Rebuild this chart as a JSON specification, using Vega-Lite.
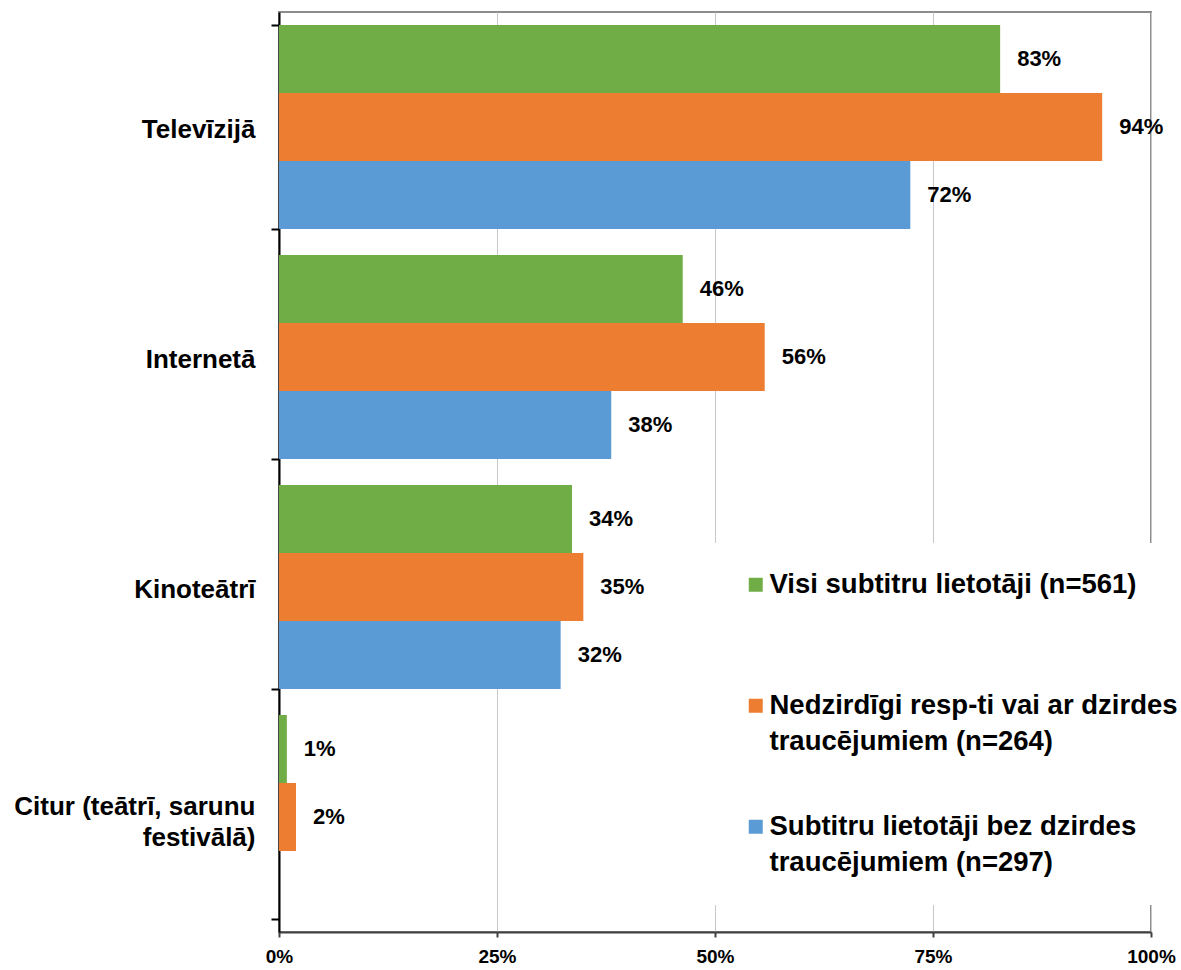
{
  "$schema": "https://vega.github.io/schema/vega-lite/v6.json",
  "width": 872,
  "height": 920,
  "autosize": {"type": "none"},
  "padding": {"left": 279, "top": 12, "right": 30, "bottom": 38},
  "background": "white",
  "config": {
    "font": "Liberation Sans",
    "view": {"stroke": "#8c8c8c", "strokeWidth": 2},
    "style": {"guide-label": {"lineHeight": 36}}
  },
  "data": {
    "values": [
      {"kanals": "Televīzijā", "grupa": "Visi subtitru lietotāji (n=561)", "v": 0.827},
      {"kanals": "Televīzijā", "grupa": "Nedzirdīgi resp-ti vai ar dzirdes traucējumiem (n=264)", "v": 0.944},
      {"kanals": "Televīzijā", "grupa": "Subtitru lietotāji bez dzirdes traucējumiem (n=297)", "v": 0.724},
      {"kanals": "Internetā", "grupa": "Visi subtitru lietotāji (n=561)", "v": 0.463},
      {"kanals": "Internetā", "grupa": "Nedzirdīgi resp-ti vai ar dzirdes traucējumiem (n=264)", "v": 0.557},
      {"kanals": "Internetā", "grupa": "Subtitru lietotāji bez dzirdes traucējumiem (n=297)", "v": 0.381},
      {"kanals": "Kinoteātrī", "grupa": "Visi subtitru lietotāji (n=561)", "v": 0.336},
      {"kanals": "Kinoteātrī", "grupa": "Nedzirdīgi resp-ti vai ar dzirdes traucējumiem (n=264)", "v": 0.349},
      {"kanals": "Kinoteātrī", "grupa": "Subtitru lietotāji bez dzirdes traucējumiem (n=297)", "v": 0.323},
      {"kanals": "Citur (teātrī, sarunu festivālā)", "grupa": "Visi subtitru lietotāji (n=561)", "v": 0.009},
      {"kanals": "Citur (teātrī, sarunu festivālā)", "grupa": "Nedzirdīgi resp-ti vai ar dzirdes traucējumiem (n=264)", "v": 0.0195}
    ]
  },
  "encoding": {
    "y": {
      "field": "kanals",
      "type": "nominal",
      "sort": ["Televīzijā", "Internetā", "Kinoteātrī", "Citur (teātrī, sarunu festivālā)"],
      "scale": {"paddingInner": 0.113, "paddingOuter": 0.0565},
      "axis": {
        "title": null,
        "tickBand": "extent",
        "tickSize": 8,
        "tickColor": "#000000",
        "tickWidth": 2,
        "domainColor": "#000000",
        "domainWidth": 2,
        "labelPadding": 16,
        "labelFontSize": 26,
        "labelFontWeight": "bold",
        "labelColor": "#000000",
        "labelLimit": 400,
        "labelLineHeight": 31,
        "labelOffset": {"condition": {"test": "datum.value == 'Citur (teātrī, sarunu festivālā)'", "value": -11}, "value": 2},
        "labelExpr": "datum.value == 'Citur (teātrī, sarunu festivālā)' ? ['Citur (teātrī, sarunu', 'festivālā)'] : datum.value"
      }
    },
    "yOffset": {
      "field": "grupa",
      "type": "nominal",
      "sort": ["Visi subtitru lietotāji (n=561)", "Nedzirdīgi resp-ti vai ar dzirdes traucējumiem (n=264)", "Subtitru lietotāji bez dzirdes traucējumiem (n=297)"],
      "scale": {"domain": ["Visi subtitru lietotāji (n=561)", "Nedzirdīgi resp-ti vai ar dzirdes traucējumiem (n=264)", "Subtitru lietotāji bez dzirdes traucējumiem (n=297)"], "paddingInner": 0, "paddingOuter": 0}
    },
    "x": {
      "field": "v",
      "type": "quantitative",
      "scale": {"domain": [0, 1]},
      "axis": {
        "title": null,
        "values": [0, 0.25, 0.5, 0.75, 1],
        "format": ".0%",
        "tickSize": 5,
        "tickColor": "#404040",
        "tickWidth": 2,
        "domainColor": "#404040",
        "domainWidth": 2,
        "gridColor": "#c8c8c8",
        "gridWidth": 1,
        "labelPadding": 10,
        "labelFontSize": 19,
        "labelFontWeight": "bold",
        "labelColor": "#000000",
        "labelFlush": false
      }
    }
  },
  "layer": [
    {
      "mark": {"type": "bar"},
      "encoding": {
        "color": {
          "field": "grupa",
          "type": "nominal",
          "scale": {
            "domain": ["Visi subtitru lietotāji (n=561)", "Nedzirdīgi resp-ti vai ar dzirdes traucējumiem (n=264)", "Subtitru lietotāji bez dzirdes traucējumiem (n=297)"],
            "range": ["#70ad47", "#ed7d31", "#5b9bd5"]
          },
          "legend": {
            "title": null,
            "orient": "none",
            "legendX": 435,
            "legendY": 531,
            "fillColor": "white",
            "padding": 28,
            "symbolType": "square",
            "symbolSize": 196,
            "symbolStrokeWidth": 0,
            "labelFontSize": 27.5,
            "labelFontWeight": "bold",
            "labelColor": "#000000",
            "labelLimit": 600,
            "labelOffset": 0,
            "rowPadding": 56,
            "labelExpr": "datum.value == 'Nedzirdīgi resp-ti vai ar dzirdes traucējumiem (n=264)' ? ['Nedzirdīgi resp-ti vai ar dzirdes', 'traucējumiem (n=264)'] : datum.value == 'Subtitru lietotāji bez dzirdes traucējumiem (n=297)' ? ['Subtitru lietotāji bez dzirdes', 'traucējumiem (n=297)'] : [datum.value, '']"
          }
        }
      }
    },
    {
      "mark": {"type": "text", "align": "left", "baseline": "middle", "dx": 17, "fontSize": 22, "fontWeight": "bold", "color": "#000000"},
      "encoding": {
        "text": {"field": "v", "type": "quantitative", "format": ".0%"},
        "detail": {"field": "grupa"}
      }
    }
  ]
}
